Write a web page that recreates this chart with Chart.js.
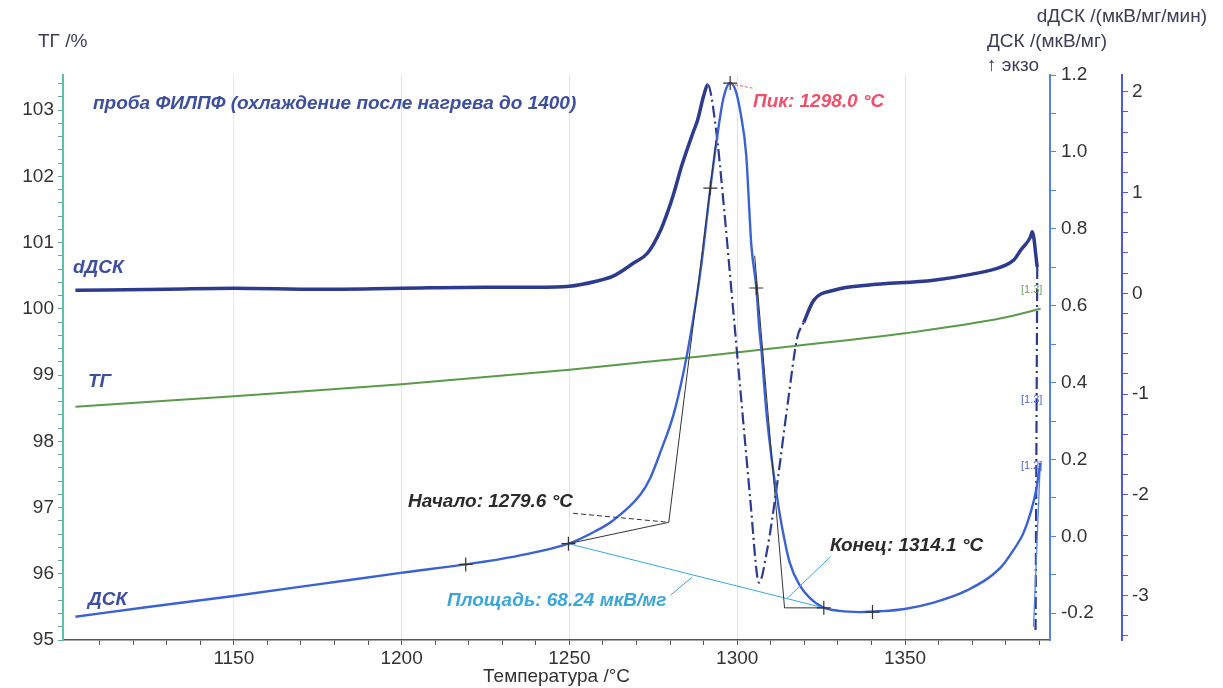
<!DOCTYPE html>
<html>
<head>
<meta charset="utf-8">
<title>ДСК / ТГ</title>
<style>
  html, body { margin: 0; padding: 0; background: #ffffff; }
  #wrap { width: 1223px; height: 688px; position: relative; }
</style>
<script src="https://cdn.jsdelivr.net/npm/chart.js"></script>
</head>
<body>
<div id="wrap"><canvas id="chart"></canvas></div>
<script>
// ТГ, %
const tgT = [1102.8, 1150, 1200, 1250, 1271, 1289, 1319, 1350, 1379, 1390.4];
const tgV = [98.52, 98.68, 98.86, 99.08, 99.19, 99.28, 99.45, 99.63, 99.86, 100.0];

// ДСК, мкВ/мг
const dscT = [1102.8, 1125, 1150, 1175, 1199.7, 1219.1, 1235, 1249.7, 1257, 1263.1, 1271.1, 1274.1,
  1277.1, 1281.0, 1284.0, 1286.1, 1289.1, 1292.0, 1294.1, 1295.9, 1297.9, 1299.5, 1301.0, 1302.7,
  1303.6, 1304.2, 1305.7, 1306.6, 1307.2, 1308.7, 1310.5, 1312.0, 1313.5, 1315.6, 1318.6, 1321.6,
  1325.4, 1330.5, 1336.5, 1342.4, 1349.9, 1358.2, 1368.6, 1378.4, 1382.3, 1385.3, 1387.4, 1389.1, 1390.3];
const dscV = [-0.209, -0.183, -0.155, -0.125, -0.095, -0.073, -0.050, -0.019, 0.010, 0.042, 0.108, 0.152,
  0.219, 0.316, 0.427, 0.524, 0.693, 0.906, 1.044, 1.140, 1.179, 1.160, 1.101, 0.990,
  0.849, 0.758, 0.646, 0.537, 0.485, 0.323, 0.186, 0.095, 0.017, -0.067, -0.127, -0.160,
  -0.184, -0.194, -0.197, -0.195, -0.189, -0.173, -0.140, -0.082, -0.036, 0.009, 0.061, 0.121, 0.191];
const dscTailT = [1390.3, 1388.3];
const dscTailV = [0.191, -0.236];

// dДСК, мкВ/мг/мин
const ddscT = [1102.8, 1130, 1150, 1175, 1200, 1225, 1240, 1250, 1258, 1263, 1269.1, 1273.3, 1277.1,
  1279.2, 1281, 1283.5, 1287, 1288.2, 1290, 1291.2, 1293.6, 1296, 1298, 1300, 1302, 1304, 1306.0,
  1306.5, 1308.9, 1311.9, 1314.9, 1317.9, 1319.8, 1322.8, 1328.8, 1338.7, 1358.5, 1370, 1378.5,
  1382.4, 1384.5, 1387.4, 1387.9, 1389.4];
const ddscV = [0.03, 0.04, 0.05, 0.04, 0.05, 0.06, 0.06, 0.07, 0.12, 0.17, 0.30, 0.40, 0.62,
  0.80, 0.98, 1.27, 1.61, 1.72, 1.96, 2.07, 1.65, 0.87, 0.13, -0.61, -1.35, -2.09, -2.82,
  -2.87, -2.55, -1.89, -1.13, -0.44, -0.29, -0.07, 0.03, 0.08, 0.13, 0.19, 0.26,
  0.33, 0.43, 0.56, 0.61, 0.26];
const ddscTailT = [1389.4, 1388.9];
const ddscTailV = [0.26, -3.34];

// evaluation constructions on ДСК
const markT = [1219.1, 1249.7, 1292.0, 1297.9, 1305.7, 1325.8, 1340.3];
const markV = [-0.073, -0.019, 0.906, 1.179, 0.646, -0.186, -0.197];
const onsetBaseT = [1249.7, 1279.6];
const onsetBaseV = [-0.019, 0.0365];
const onsetTanT = [1279.6, 1293.7];
const onsetTanV = [0.0365, 1.03];
const endBaseT = [1314.1, 1325.4];
const endBaseV = [-0.186, -0.186];
const endTanT = [1314.1, 1305.2];
const endTanV = [-0.186, 0.73];
const areaBaseT = [1249.7, 1325.8];
const areaBaseV = [-0.019, -0.186];
const onsetLeadT = [1251.1, 1279.6];
const onsetLeadV = [0.060, 0.0365];
const peakLeadT = [1297.9, 1304.5];
const peakLeadV = [1.177, 1.166];
const areaLeadT = [1280.1, 1286.6];
const areaLeadV = [-0.153, -0.106];
const endLeadT = [1314.9, 1327.8];
const endLeadV = [-0.161, -0.053];

// ticks
const xLabels = [1150, 1200, 1250, 1300, 1350];
const tgLabels = [95, 96, 97, 98, 99, 100, 101, 102, 103];
const dscLabels = [-0.2, 0.0, 0.2, 0.4, 0.6, 0.8, 1.0, 1.2];
const ddscLabels = [-3, -2, -1, 0, 1, 2];

function pts(xs, ys) { return xs.map((x, i) => ({ x: x, y: ys[i] })); }
function steps(from, to, step) {
  const out = [];
  const n = Math.round((to - from) / step);
  for (let i = 0; i <= n; i++) out.push(+(from + i * step).toFixed(4));
  return out;
}
function near(v, list) { return list.some(l => Math.abs(l - v) < 1e-6); }

const FONT = '"Liberation Sans", Arial, sans-serif';
const LABEL = 'italic bold 19px ' + FONT;
const AXISF = '19px ' + FONT;

const notes = [
  { text: 'ТГ /%', x: 38, y: 42, font: AXISF, color: '#3b3d55' },
  { text: 'dДСК /(мкВ/мг/мин)', x: 1207, y: 17, font: AXISF, color: '#3b3d55', align: 'right' },
  { text: 'ДСК /(мкВ/мг)', x: 987, y: 42, font: AXISF, color: '#3b3d55' },
  { text: '↑ экзо', x: 987, y: 66, font: AXISF, color: '#3b3d55' },
  { text: 'проба ФИЛПФ (охлаждение после нагрева до 1400)', x: 93, y: 104, font: LABEL, color: '#3d4f9f' },
  { text: 'dДСК', x: 73, y: 268, font: LABEL, color: '#3d4f9f' },
  { text: 'ТГ', x: 88, y: 382, font: LABEL, color: '#3d4f9f' },
  { text: 'ДСК', x: 88, y: 600, font: LABEL, color: '#3d4f9f' },
  { text: 'Пик: 1298.0 °C', x: 753, y: 102, font: LABEL, color: '#f0506a' },
  { text: 'Начало: 1279.6 °C', x: 573, y: 502, font: LABEL, color: '#2b2b2b', align: 'right' },
  { text: 'Площадь: 68.24 мкВ/мг', x: 447, y: 601, font: LABEL, color: '#3aa7d8' },
  { text: 'Конец: 1314.1 °C', x: 830, y: 546, font: LABEL, color: '#2b2b2b' },
  { text: '[1.3]', x: 1021, y: 290, font: '11px ' + FONT, color: '#6aa860' },
  { text: '[1.3]', x: 1021, y: 400, font: '11px ' + FONT, color: '#5066c8' },
  { text: '[1.2]', x: 1021, y: 466, font: '11px ' + FONT, color: '#5066c8' }
];

const textPlugin = {
  id: 'texts',
  afterDraw(chart) {
    const c = chart.ctx;
    c.save();
    notes.forEach(n => {
      c.font = n.font;
      c.fillStyle = n.color;
      c.textAlign = n.align || 'left';
      c.textBaseline = 'middle';
      c.fillText(n.text, n.x, n.y);
    });
    c.restore();
  }
};

const gridCols = { 1150: '#f1e4ef', 1200: '#e6def6', 1250: '#cfedf7', 1300: '#f5dbe9', 1350: '#e8dcf5' };

function thin(data, color, dash) {
  return {
    data: data, yAxisID: 'y1', borderColor: color, borderWidth: 1, borderDash: dash || [],
    pointRadius: 0, tension: 0, fill: false
  };
}

new Chart(document.getElementById('chart'), {
  type: 'line',
  data: {
    datasets: [
      { data: pts(markT, markV), yAxisID: 'y1', showLine: false, pointStyle: 'cross',
        pointRadius: 7, borderColor: '#333333', borderWidth: 1.2 },
      thin(pts(onsetBaseT, onsetBaseV), '#333333'),
      thin(pts(onsetTanT, onsetTanV), '#333333'),
      thin(pts(endBaseT, endBaseV), '#333333'),
      thin(pts(endTanT, endTanV), '#333333'),
      thin(pts(areaBaseT, areaBaseV), '#3aa7d8'),
      thin(pts(onsetLeadT, onsetLeadV), '#333333', [5, 3]),
      thin(pts(peakLeadT, peakLeadV), '#f0506a', [3, 2]),
      thin(pts(areaLeadT, areaLeadV), '#3aa7d8'),
      thin(pts(endLeadT, endLeadV), '#3aa7d8'),
      { data: pts(dscT, dscV), yAxisID: 'y1', borderColor: '#3a62d4', borderWidth: 2.4,
        pointRadius: 0, cubicInterpolationMode: 'monotone', fill: false },
      { data: pts(dscTailT, dscTailV), yAxisID: 'y1', borderColor: '#5a86e0', borderWidth: 1.3,
        pointRadius: 0, tension: 0, fill: false },
      { data: pts(ddscT, ddscV), yAxisID: 'y2', borderColor: '#2d3b8f', borderWidth: 3.5,
        pointRadius: 0, cubicInterpolationMode: 'monotone', fill: false,
        segment: {
          borderDash: ctx => (ctx.p0.parsed.x >= 1291.2 && ctx.p0.parsed.x < 1318) ? [12, 4, 2, 4] : undefined,
          borderWidth: ctx => (ctx.p0.parsed.x >= 1291.2 && ctx.p0.parsed.x < 1318) ? 2.2 : undefined
        } },
      { data: pts(ddscTailT, ddscTailV), yAxisID: 'y2', borderColor: '#2d3b8f', borderWidth: 2.2,
        borderDash: [12, 4, 2, 4], pointRadius: 0, tension: 0, fill: false },
      { data: pts(tgT, tgV), yAxisID: 'y', borderColor: '#5b9a4a', borderWidth: 2,
        pointRadius: 0, cubicInterpolationMode: 'monotone', fill: false }
    ]
  },
  options: {
    responsive: true,
    maintainAspectRatio: false,
    animation: false,
    layout: { padding: { top: 75, left: 0, right: 0, bottom: 0 } },
    plugins: { legend: { display: false }, tooltip: { enabled: false } },
    scales: {
      x: {
        type: 'linear', min: 1099.1, max: 1393.2,
        afterBuildTicks: s => { s.ticks = steps(1110, 1390, 10).map(v => ({ value: v })); },
        afterFit: s => { s.height = 48; },
        ticks: {
          autoSkip: false, maxRotation: 0, padding: 2, color: '#333333',
          font: { family: FONT, size: 19 },
          callback: v => near(v, xLabels) ? String(v) : ''
        },
        grid: {
          color: ctx => (ctx.tick && gridCols[ctx.tick.value]) || 'rgba(0,0,0,0)',
          tickColor: '#555555', tickLength: 5
        },
        border: { color: '#555555', width: 1.5 },
        title: { display: true, text: 'Температура /°C', color: '#333333',
          font: { family: FONT, size: 19 }, padding: 0 }
      },
      y: {
        type: 'linear', position: 'left', min: 95, max: 103.53,
        afterBuildTicks: s => { s.ticks = steps(95, 103.4, 0.2).map(v => ({ value: v })); },
        afterFit: s => { s.width = 63; },
        ticks: {
          autoSkip: false, padding: 4, color: '#333333',
          font: { family: FONT, size: 19 },
          callback: v => near(v, tgLabels) ? String(Math.round(v)) : ''
        },
        grid: { drawOnChartArea: false, tickLength: 5, tickColor: '#6aa88a' },
        border: { color: '#5cc0a8', width: 2 }
      },
      y1: {
        type: 'linear', position: 'right', min: -0.2696, max: 1.2,
        afterBuildTicks: s => { s.ticks = steps(-0.2, 1.2, 0.1).map(v => ({ value: v })); },
        afterFit: s => { s.width = 72; },
        ticks: {
          autoSkip: false, padding: 5, color: '#333333',
          font: { family: FONT, size: 19 },
          callback: v => near(v, dscLabels) ? v.toFixed(1) : ''
        },
        grid: { drawOnChartArea: false, tickLength: 6, tickColor: '#4f86e8' },
        border: { color: '#4f86e8', width: 2 }
      },
      y2: {
        type: 'linear', position: 'right', min: -3.44, max: 2.166,
        afterBuildTicks: s => { s.ticks = steps(-3.4, 2.0, 0.2).map(v => ({ value: v })); },
        afterFit: s => { s.width = 101; },
        ticks: {
          autoSkip: false, padding: 4, color: '#333333',
          font: { family: FONT, size: 19 },
          callback: v => near(v, ddscLabels) ? String(Math.round(v)) : ''
        },
        grid: { drawOnChartArea: false, tickLength: 6, tickColor: '#4d5ad8' },
        border: { color: '#4d5ad8', width: 2 }
      }
    }
  },
  plugins: [textPlugin]
});
</script>
</body>
</html>
